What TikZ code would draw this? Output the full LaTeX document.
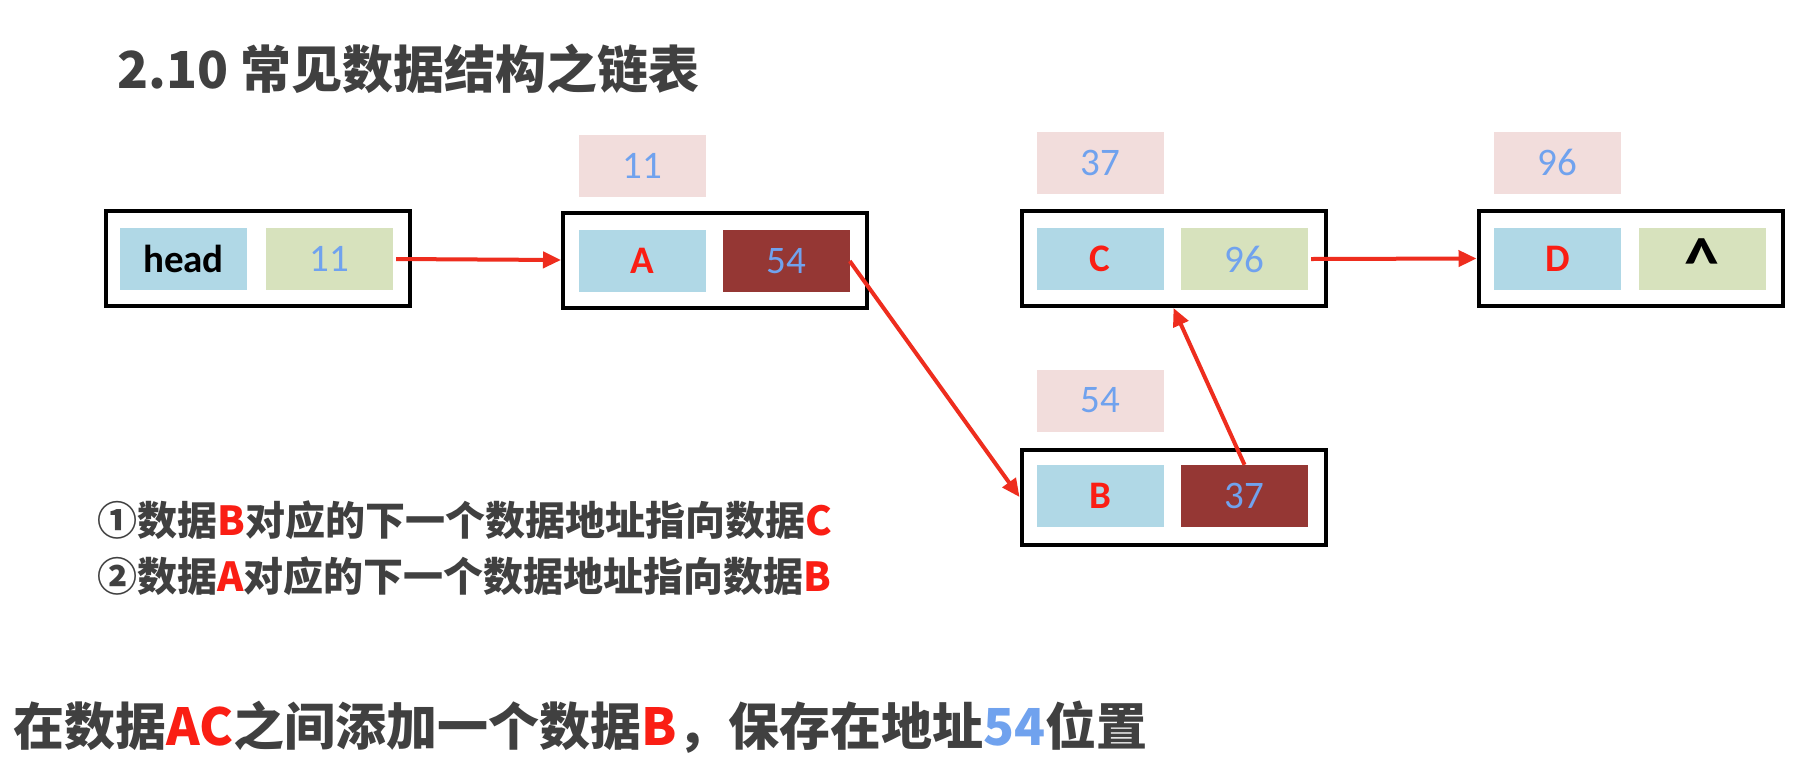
\documentclass[tikz,border=0pt]{standalone}
\usepackage{fontspec}
\setmainfont{Noto Sans CJK SC}
\newfontfamily\cellfont{Carlito}
\usetikzlibrary{arrows.meta,positioning}
\definecolor{cell_blue}{RGB}{176,216,230}
\definecolor{cell_green}{RGB}{215,226,189}
\definecolor{cell_dark}{RGB}{149,55,52}
\definecolor{addr_pink}{RGB}{242,221,220}
\definecolor{num_blue}{RGB}{112,162,238}
\definecolor{hl_red}{RGB}{250,30,20}
\definecolor{link_red}{RGB}{238,45,30}
\definecolor{text_gray}{RGB}{64,64,64}

\begin{document}
\begin{tikzpicture}[x=1pt, y=-1pt,
    frame/.style={draw=black, line width=4pt, minimum width=304pt, minimum height=95pt, inner sep=0pt},
    cell/.style={minimum width=127pt, minimum height=62pt, inner sep=0pt, font=\cellfont\fontsize{39}{42}\selectfont},
    datacell/.style={cell, fill=cell_blue, text=hl_red, font=\cellfont\bfseries\fontsize{39}{42}\selectfont},
    nextcell/.style={cell, fill=cell_green, text=num_blue},
    newcell/.style={cell, fill=cell_dark, text=num_blue},
    addr/.style={cell, fill=addr_pink, text=num_blue},
    link/.style={draw=link_red, line width=4pt, -{Triangle[length=18pt,width=16pt]}},
    note/.style={anchor=west, text=text_gray, font=\bfseries\fontsize{40}{46}\selectfont}]
  \useasboundingbox (0,0) rectangle (1803,761);
  \fill[white] (0,0) rectangle (1803,761);

  % title
  \node[anchor=west, text=text_gray, font=\bfseries\fontsize{51}{58}\selectfont] (title) at (114,69) {2.10 常见数据结构之链表};

  % head
  \node[frame] (fhead) at (258,258.5) {};
  \node[datacell, text=black] (head) at (183.5,259) {head};
  \node[nextcell] (hnext) at (329.5,259) {11};

  % A
  \node[frame] (fA) at (715,260) {};
  \node[datacell] (A) at (642,261) {A};
  \node[newcell] (Anext) at (786,261) {54};
  \node[addr] (Aaddr) at (642,165.5) {11};

  % C
  \node[frame] (fC) at (1173.5,258.5) {};
  \node[datacell] (C) at (1100,259) {C};
  \node[nextcell] (Cnext) at (1244.5,259) {96};
  \node[addr] (Caddr) at (1100,162.5) {37};

  % D
  \node[frame] (fD) at (1630.5,258.5) {};
  \node[datacell] (D) at (1557.5,259) {D};
  \node[nextcell, text=black, font=\cellfont\bfseries\fontsize{70}{74}\selectfont] (Dnext) at (1702,259) {\smash{\raisebox{-27pt}{\textasciicircum}}};
  \node[addr] (Daddr) at (1557.5,162.5) {96};

  % B
  \node[frame] (fB) at (1173.5,497) {};
  \node[datacell] (B) at (1100,496) {B};
  \node[newcell] (Bnext) at (1244.5,496) {37};
  \node[addr] (Baddr) at (1100,400.5) {54};

  % links
  \draw[link] ([xshift=3pt]hnext.east) -- (fA.west);
  \draw[link] (Anext.east) -- (fB.west);
  \draw[link] (Bnext.north) -- (fC.south);
  \draw[link] ([xshift=3pt]Cnext.east) -- (fD.west);

  % notes
  \node[note] (step1) at (94,520) {①数据\textcolor{hl_red}{B}对应的下一个数据地址指向数据\textcolor{hl_red}{C}};
  \node[note] (step2) at (94,576) {②数据\textcolor{hl_red}{A}对应的下一个数据地址指向数据\textcolor{hl_red}{B}};
  \node[note, font=\bfseries\fontsize{51}{56}\selectfont] (task) at (10,727)
    {在数据\textcolor{hl_red}{AC}之间添加一个数据\textcolor{hl_red}{B}，保存在地址\textcolor{num_blue}{54}位置};
\end{tikzpicture}
\end{document}
